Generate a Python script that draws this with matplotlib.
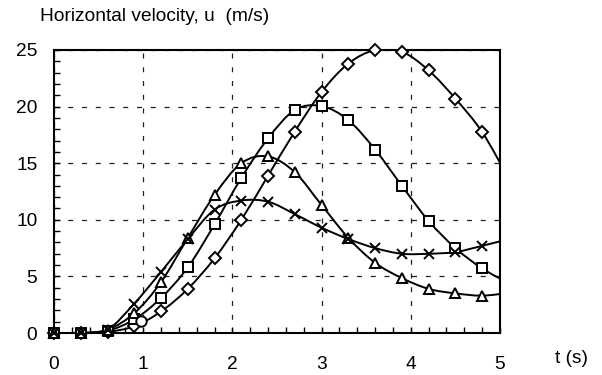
import matplotlib
matplotlib.use("Agg")
import matplotlib.pyplot as plt
from matplotlib.path import Path
from matplotlib.patches import PathPatch
from matplotlib.ticker import MultipleLocator
import numpy as np

plt.rcParams['font.family'] = ['Liberation Sans', 'DejaVu Sans']

# time samples (s)
t = [0.0, 0.3, 0.6, 0.9, 1.2, 1.5, 1.8, 2.1, 2.4, 2.7, 3.0, 3.3, 3.6, 3.9, 4.2, 4.5, 4.8, 5.1]

# horizontal velocity series (m/s)
u_diamond = [0.0, 0.0, 0.1, 0.6, 1.9, 3.9, 6.6, 10.0, 13.9, 17.8, 21.3, 23.8, 25.0, 24.85, 23.2, 20.7, 17.75, 13.6]
u_square = [0.0, 0.0, 0.2, 1.2, 3.1, 5.8, 9.6, 13.7, 17.2, 19.7, 20.05, 18.8, 16.2, 13.0, 9.9, 7.5, 5.7, 4.4]
u_triangle = [0.0, 0.0, 0.3, 1.75, 4.5, 8.4, 12.2, 15.0, 15.6, 14.2, 11.3, 8.4, 6.2, 4.85, 3.9, 3.5, 3.3, 3.55]
u_cross = [0.0, 0.0, 0.3, 2.6, 5.4, 8.3, 10.9, 11.7, 11.6, 10.5, 9.3, 8.3, 7.5, 7.0, 7.0, 7.15, 7.7, 8.3]

# single circle marker
t_circle = [0.98]
u_circle = [1.05]

fig = plt.figure(figsize=(6.02, 3.75), dpi=100)
ax = fig.add_axes([54 / 602, 1 - 333 / 375, (500 - 54) / 602, (333 - 50) / 375])


def smooth_path(x, y):
    x = np.asarray(x, float)
    y = np.asarray(y, float)
    n = len(x)
    verts = [(x[0], y[0])]
    codes = [Path.MOVETO]
    for i in range(n - 1):
        i0 = max(i - 1, 0)
        i3 = min(i + 2, n - 1)
        c1 = (x[i] + (x[i + 1] - x[i0]) / 6, y[i] + (y[i + 1] - y[i0]) / 6)
        c2 = (x[i + 1] - (x[i3] - x[i]) / 6, y[i + 1] - (y[i3] - y[i]) / 6)
        verts += [c1, c2, (x[i + 1], y[i + 1])]
        codes += [Path.CURVE4] * 3
    return Path(verts, codes)


series = [
    (u_diamond, 'D', 6.3),
    (u_square, 's', 7),
    (u_triangle, '^', 7.5),
    (u_cross, 'x', 7.5),
]

tm = [v for v in t if v <= 5.0]
for u, m, ms in series:
    patch = PathPatch(smooth_path(t, u), facecolor='none', edgecolor='black', lw=1.4, zorder=3)
    ax.add_patch(patch)
    um = u[:len(tm)]
    if m == 'x':
        ax.plot(tm, um, linestyle='none', marker=m, ms=ms, mew=1.4, color='black', zorder=4, clip_on=False)
    else:
        ax.plot(tm, um, linestyle='none', marker=m, ms=ms, mew=1.4, mfc='white', mec='black', zorder=4, clip_on=False)

ax.plot(t_circle, u_circle, linestyle='none', marker='o', ms=7.5, mew=1.4, mfc='white', mec='black', zorder=4)

ax.set_xlim(0, 5)
ax.set_ylim(0, 25)
ax.xaxis.set_major_locator(MultipleLocator(1))
ax.xaxis.set_minor_locator(MultipleLocator(0.2))
ax.yaxis.set_major_locator(MultipleLocator(5))
ax.yaxis.set_minor_locator(MultipleLocator(1))

ax.tick_params(which='both', direction='in', top=False, right=False, color='black', width=1)
ax.tick_params(which='major', length=4, labelsize=13.8)
ax.tick_params(which='minor', length=4)
ax.tick_params(axis='x', which='major', pad=16.5)
ax.tick_params(axis='y', which='major', pad=12)

ax.grid(True, which='major', color='#202020', linestyle=(0, (4, 7)), linewidth=0.9)
for s in ax.spines.values():
    s.set_linewidth(1.5)
    s.set_color('black')

fig.text(40 / 602, 1 - 20.7 / 375, 'Horizontal velocity, u  (m/s)', fontsize=13.8, ha='left', va='baseline')
fig.text(555 / 602, 1 - 363 / 375, 't (s)', fontsize=13.8, ha='left', va='baseline')

fig.savefig('out.png', dpi=100)
